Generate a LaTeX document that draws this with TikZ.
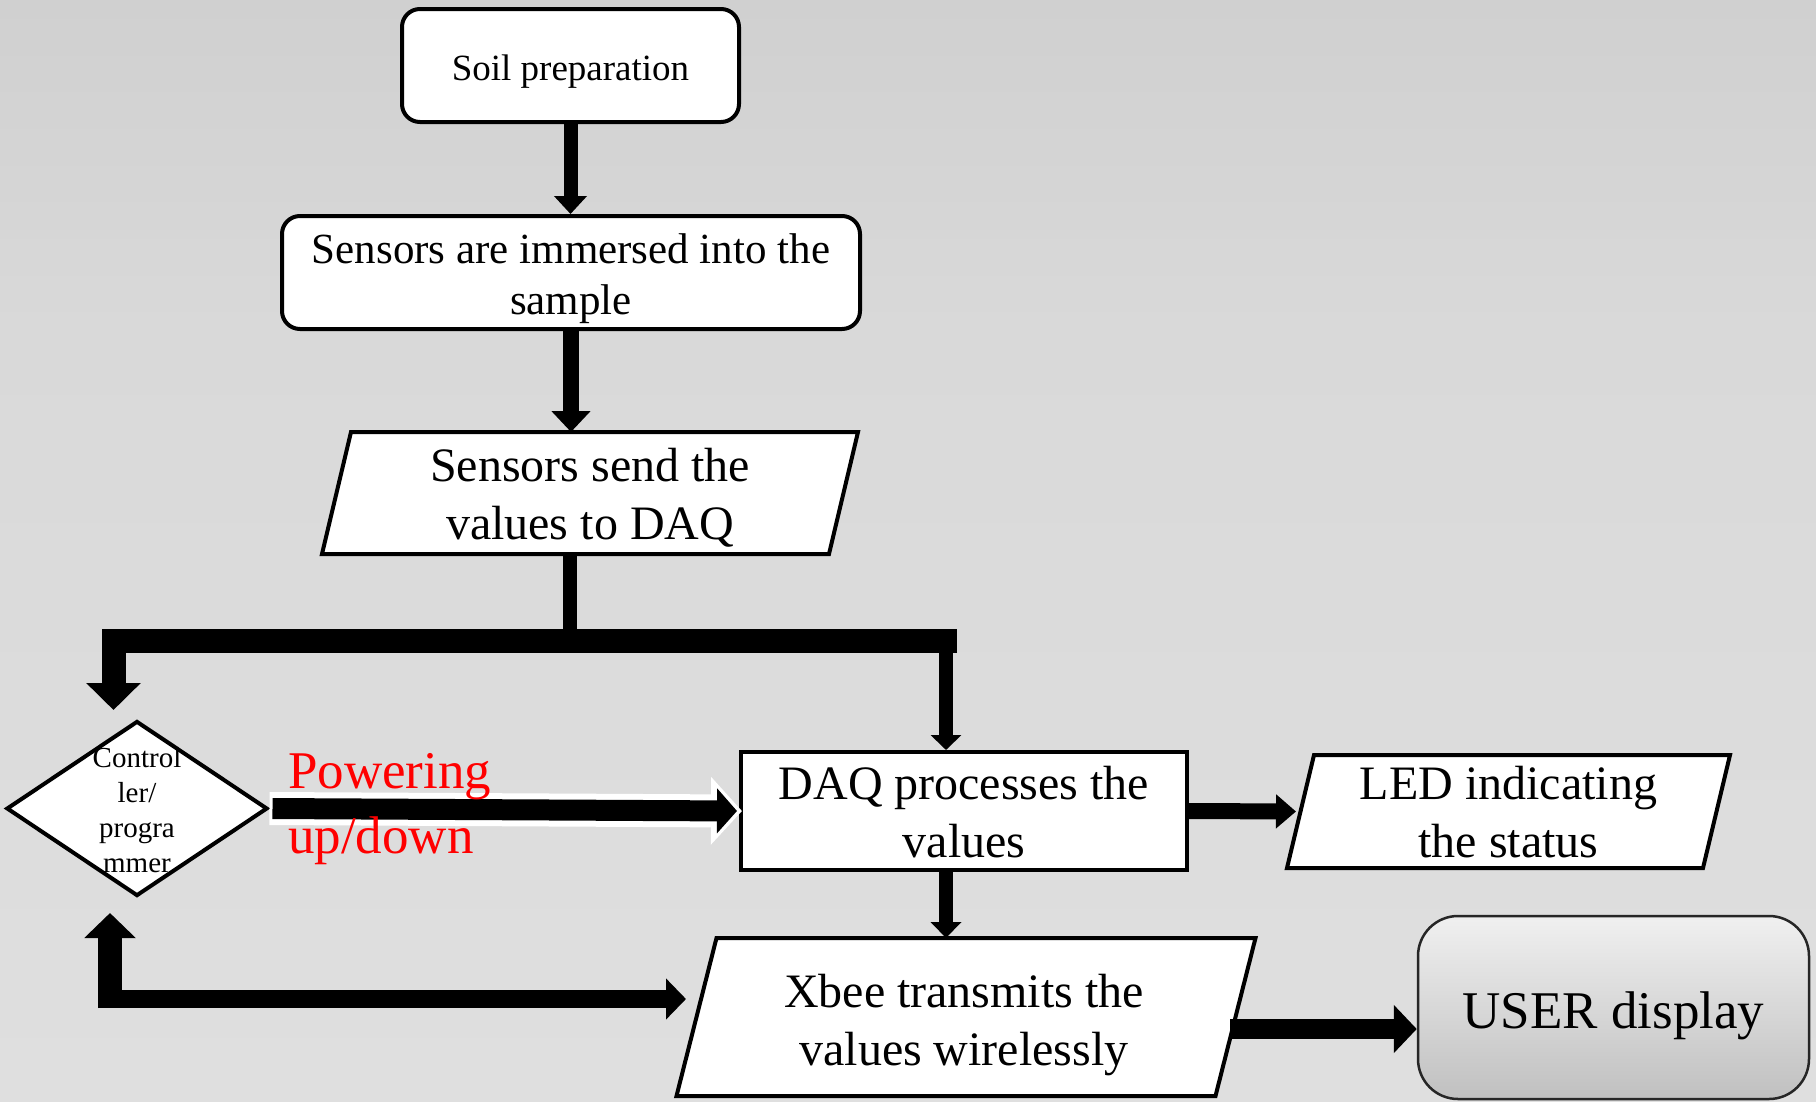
\documentclass[tikz,border=0pt]{standalone}
\usepackage{fontspec}
\setmainfont{Liberation Serif}
\usetikzlibrary{arrows.meta,shapes.geometric}
\definecolor{bgtop}{RGB}{208,208,208}
\definecolor{bgmid}{RGB}{217,217,217}
\definecolor{bgbot}{RGB}{223,223,223}
\definecolor{usertop}{RGB}{240,240,240}
\definecolor{userbot}{RGB}{192,192,192}
\begin{document}
\begin{tikzpicture}[x=1pt,y=-1pt,
  box/.style={draw=black, line width=4pt, fill=white, inner sep=0pt},
  rbox/.style={box, rectangle, rounded corners=18pt},
  frame/.style={rectangle, inner sep=0pt, outer sep=0pt},
  pbox/.style={draw=black, line width=4pt, fill=white, line join=miter},
  txt/.style={align=center, inner sep=0pt, text=black},
  fsmall/.style={txt, font=\fontsize{37}{44}\selectfont},
  fmid/.style={txt, font=\fontsize{43}{51}\selectfont},
  fbig/.style={txt, font=\fontsize{48}{58}\selectfont},
  fhuge/.style={txt, font=\fontsize{53}{65}\selectfont}]
\useasboundingbox (0,0) rectangle (1816,1101);
\clip (0,0) rectangle (1816,1101);
\shade[top color=bgtop, bottom color=bgmid] (0,0) rectangle (1816,330);
\shade[top color=bgmid, bottom color=bgbot] (0,330) rectangle (1816,1101);

% shapes
\node[rbox, minimum width=337pt, minimum height=113pt] (soil) at (570.5,65.5) {};
\node[rbox, minimum width=578pt, minimum height=113pt] (imm) at (571,272.5) {};
\node[frame, minimum width=536pt, minimum height=122pt] (send) at (590,493) {};
\draw[pbox] ([xshift=29pt]send.north west) -- (send.north east) -- ([xshift=-29pt]send.south east) -- (send.south west) -- cycle;
\node[diamond, draw=black, line width=4pt, fill=white, minimum width=261pt, minimum height=175pt, inner sep=0pt] (ctrl) at (137,808.5) {};
\node[box, rectangle, minimum width=446pt, minimum height=118pt] (daq) at (964,811) {};
\node[frame, minimum width=443pt, minimum height=113pt] (led) at (1508.5,811.5) {};
\draw[pbox] ([xshift=27pt]led.north west) -- (led.north east) -- ([xshift=-27pt]led.south east) -- (led.south west) -- cycle;
\node[frame, minimum width=579pt, minimum height=158pt] (xbee) at (966,1017) {};
\draw[pbox] ([xshift=40pt]xbee.north west) -- (xbee.north east) -- ([xshift=-40pt]xbee.south east) -- (xbee.south west) -- cycle;
\node[draw=black!85, line width=2.5pt, rounded corners=40pt, top color=usertop, bottom color=userbot, minimum width=391pt, minimum height=183pt] (user) at (1613.5,1007.5) {};

% texts
\node[fsmall] (soiltext) at ([yshift=-6pt]soil.center) {Soil preparation};
\node[fmid] (immtext) at ([yshift=-6pt]imm.center) {Sensors are immersed into the\\sample};
\node[fbig] (sendtext) at ([yshift=-5pt]send.center) {Sensors send the\\values to DAQ};
\node[font=\fontsize{29}{35}\selectfont, txt] (ctrltext) at ([yshift=-2pt]ctrl.center) {Control\\ler/\\progra\\mmer};
\node[fbig] (daqtext) at ([yshift=-1pt]daq.center) {DAQ processes the\\values};
\node[fbig] (ledtext) at ([yshift=-1pt]led.center) {LED indicating\\the status};
\node[fbig] (xbeetext) at ([yshift=-8pt,xshift=-2pt]xbee.center) {Xbee transmits the\\values wirelessly};
\node[fhuge] (usertext) at ([yshift=-8pt]user.center) {USER display};

% helper coordinates
\coordinate (j) at (570,641);
\coordinate (barR) at (957,641);
\coordinate (barL) at (113.5,641);
\coordinate (ctrlin) at (113.5,710);
\coordinate (jr) at (946,641);
\coordinate (ledin) at ([xshift=9pt]led.west);
\coordinate (ua) at (1230,1029);
\coordinate (fbv) at (110,1008);
\coordinate (fbtip) at (110,913);
\coordinate (fbh) at (98,999);
\coordinate (fbx) at (686,999);

% connectors
\draw[line width=14pt, -{Triangle[width=32pt,length=18pt]}] (soil.south) -- (soil.south |- imm.north);
\draw[line width=16pt, -{Triangle[width=38pt,length=21pt]}] (imm.south) -- (imm.south |- send.north);
\draw[line width=14pt] (j |- send.south) -- (j);
\draw[line width=24pt, -{Triangle[width=53pt,length=27pt]}] (barR) -- (barL) -- (ctrlin);
\draw[line width=14pt, -{Triangle[width=30pt,length=15pt]}] (jr) -- (jr |- daq.north);
\draw[white, line width=33pt, -{Triangle[width=66pt,length=31pt]}, shorten >=-3pt] (ctrl.east) -- (daq.west);
\draw[black, line width=21pt, -{Triangle[width=44pt,length=20pt]}, shorten <=3pt, shorten >=2pt] (ctrl.east) -- (daq.west);
\draw[line width=16pt, -{Triangle[width=33pt,length=20pt]}] (daq.east) -- (ledin);
\draw[line width=14pt, -{Triangle[width=30pt,length=16pt]}] (daq.south -| jr) -- (jr |- xbee.north);
\draw[line width=20pt, -{Triangle[width=47pt,length=23pt]}] (ua) -- (ua -| user.west);
\draw[line width=24pt, -{Triangle[width=50pt,length=25pt]}] (fbv) -- (fbtip);
\draw[line width=18pt, -{Triangle[width=40pt,length=20pt]}] (fbh) -- (fbx);

% red label on top of the arrow
\node[text=red, font=\fontsize{53}{65}\selectfont, align=left, anchor=west, inner sep=0pt] (pow) at (288,809) {Powering\\up/down};
\end{tikzpicture}
\end{document}
